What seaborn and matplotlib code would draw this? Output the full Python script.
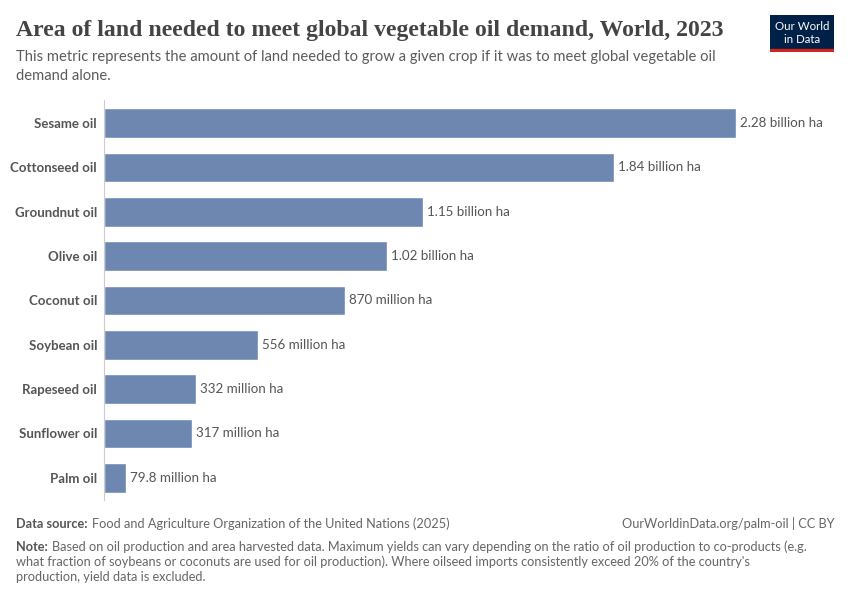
import matplotlib
matplotlib.use("Agg")
import matplotlib.pyplot as plt
import seaborn as sns
import pandas as pd

# Data (hectares)
crops = ["Sesame oil", "Cottonseed oil", "Groundnut oil", "Olive oil", "Coconut oil",
         "Soybean oil", "Rapeseed oil", "Sunflower oil", "Palm oil"]
land_ha = [2.28e9, 1.84e9, 1.15e9, 1.02e9, 870e6, 556e6, 332e6, 317e6, 79.8e6]
value_labels = ["2.28 billion ha", "1.84 billion ha", "1.15 billion ha", "1.02 billion ha",
                "870 million ha", "556 million ha", "332 million ha", "317 million ha",
                "79.8 million ha"]

df = pd.DataFrame({"crop": crops, "land": land_ha})

sns.set_theme(style="white")
plt.rcParams["font.family"] = ["Lato", "DejaVu Sans"]

fig = plt.figure(figsize=(8.5, 6), dpi=100)
ax = fig.add_axes([104 / 850, 1 - 500 / 600, (824 - 104) / 850, 400 / 600])

bar_color = "#6d87b1"
sns.barplot(data=df, x="land", y="crop", color=bar_color, width=0.67,
            saturation=1, ax=ax, orient="h")

xmax = 2.28e9 * (824 - 104) / (736 - 104)
ax.set_xlim(0, xmax)
ax.set_ylim(8.5, -0.52)

for i, (v, lab) in enumerate(zip(land_ha, value_labels)):
    ax.text(v + xmax * 0.006, i, lab, va="center", ha="left", fontsize=9.6, color="#555555")

ax.set_xlabel("")
ax.set_ylabel("")
ax.set_xticks([])
ax.tick_params(axis="y", length=0, pad=5)
for t in ax.get_yticklabels():
    t.set_fontweight("bold")
    t.set_color("#555555")
    t.set_fontsize(9.5)
for s in ["top", "right", "bottom"]:
    ax.spines[s].set_visible(False)
ax.spines["left"].set_color("#cccccc")
ax.spines["left"].set_linewidth(0.8)

# Titles
fig.text(16 / 850, 1 - 36 / 600, "Area of land needed to meet global vegetable oil demand, World, 2023",
         family=["Liberation Serif", "DejaVu Serif"], fontsize=17.1, fontweight="bold",
         color="#444444", va="baseline")
fig.text(16 / 850, 1 - 61 / 600,
         "This metric represents the amount of land needed to grow a given crop if it was to meet global vegetable oil",
         fontsize=10.65, color="#5b5b5b", va="baseline")
fig.text(16 / 850, 1 - 80 / 600, "demand alone.", fontsize=10.65, color="#5b5b5b", va="baseline")

# Logo
logo = fig.add_axes([770 / 850, 1 - 52 / 600, 64 / 850, 37 / 600])
logo.set_xlim(0, 1)
logo.set_ylim(0, 1)
logo.axis("off")
logo.add_patch(plt.Rectangle((0, 0.08), 1, 0.92, color="#002147"))
logo.add_patch(plt.Rectangle((0, 0), 1, 0.08, color="#ce261e"))
logo.text(0.5, 0.7, "Our World", ha="center", va="center", color="white", fontsize=8.3)
logo.text(0.5, 0.34, "in Data", ha="center", va="center", color="white", fontsize=8.3)

# Footer
renderer = fig.canvas.get_renderer()
foot_size = 9.2


def label_then_text(y_px, label, rest):
    t = fig.text(16 / 850, 1 - y_px / 600, label, fontsize=foot_size, color="#555555",
                 fontweight="bold", va="baseline")
    bb = t.get_window_extent(renderer)
    fig.text((bb.x1 + 4) / 850, 1 - y_px / 600, rest, fontsize=foot_size,
             color="#666666", va="baseline")


label_then_text(528, "Data source:", "Food and Agriculture Organization of the United Nations (2025)")
fig.text(834 / 850, 1 - 528 / 600, "OurWorldinData.org/palm-oil | CC BY", fontsize=foot_size,
         color="#666666", va="baseline", ha="right")
label_then_text(551, "Note:",
                "Based on oil production and area harvested data. Maximum yields can vary depending on the ratio of oil production to co-products (e.g.")
fig.text(16 / 850, 1 - 566 / 600,
         "what fraction of soybeans or coconuts are used for oil production). Where oilseed imports consistently exceed 20% of the country's",
         fontsize=foot_size, color="#666666", va="baseline")
fig.text(16 / 850, 1 - 581 / 600, "production, yield data is excluded.",
         fontsize=foot_size, color="#666666", va="baseline")

fig.savefig("out.png", dpi=100)
